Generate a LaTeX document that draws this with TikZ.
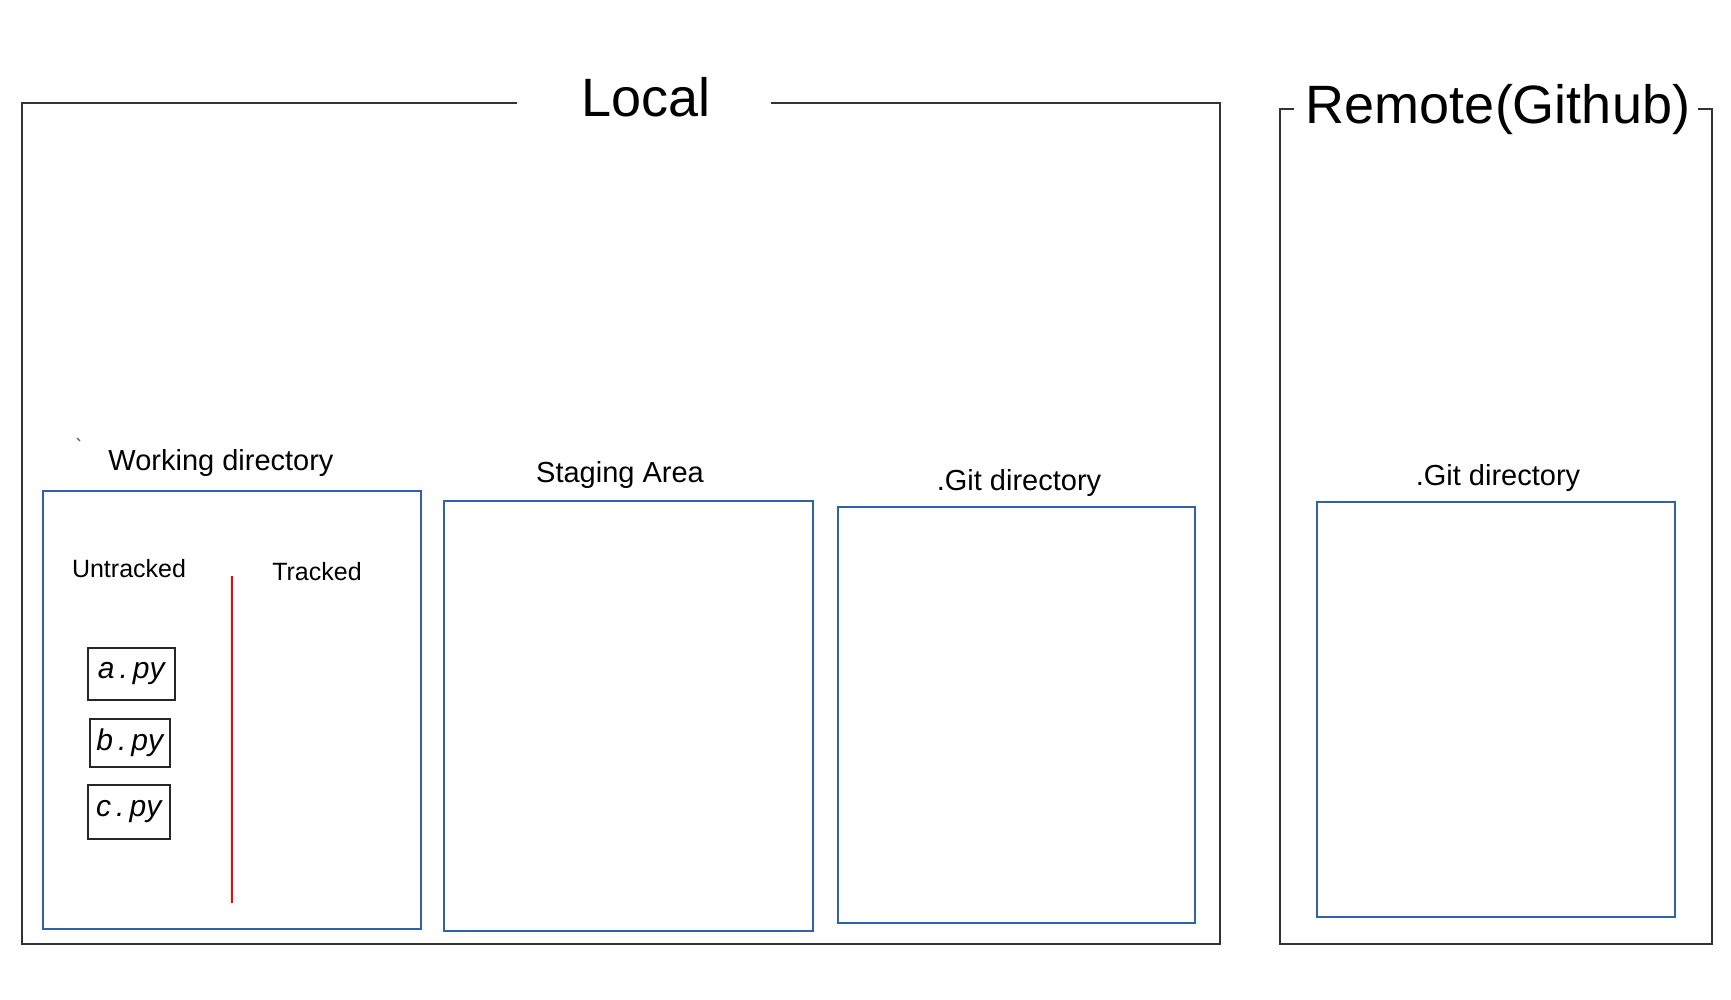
\documentclass[tikz,border=0pt]{standalone}
\usepackage{fontspec}
\setmainfont{Liberation Sans}
\begin{document}
\begin{tikzpicture}[x=1pt,y=-1pt,
  frame/.style={draw=black!80, line width=1.4pt},
  area/.style={draw=blueline, line width=1.5pt, rectangle, inner sep=0pt, anchor=north west},
  filebox/.style={draw=black!85, line width=1.5pt, rectangle, inner sep=0pt, anchor=north west, font=\fontsize{30}{36}\selectfont\itshape},
  bigtitle/.style={font=\fontsize{54}{64}\selectfont, inner sep=0pt},
  label/.style={font=\fontsize{29}{34}\selectfont, inner sep=0pt},
  small/.style={font=\fontsize{25}{30}\selectfont, inner sep=0pt}
]
\definecolor{blueline}{RGB}{48,98,170}
\useasboundingbox[fill=white] (0,0) rectangle (1731,1000);

% Local frame
\node[bigtitle] (ltitle) at (646,97) {Local};
\coordinate (lgapL) at (517,103);
\coordinate (lgapR) at (771,103);
\draw[frame] (lgapL) -- (22,103) -- (22,944) -- (1220,944) -- (1220,103) -- (lgapR);

% Remote frame
\node[bigtitle] (rtitle) at (1498,110) {Remote(Github)};
\coordinate (rgapL) at (1294,109);
\coordinate (rgapR) at (1698,109);
\draw[frame] (rgapL) -- (1280,109) -- (1280,944) -- (1712,944) -- (1712,109) -- (rgapR);

% Working directory
\node[label] (wdl) at (221,463) {Working directory};
\node[area, minimum width=378pt, minimum height=438pt] (wd) at (42,490) {};
\node[small] (untr) at (129,569) {Untracked};
\node[small] (tr) at (317,572) {Tracked};
\coordinate (redT) at (232,576);
\coordinate (redB) at (232,903);
\draw[red, line width=1.4pt] (redT) -- (redB);

\node[filebox, minimum width=87pt, minimum height=52pt] (fa) at (87,647) {a\,.\,py};
\node[filebox, minimum width=80pt, minimum height=48pt] (fb) at (89,718) {b\,.\,py};
\node[filebox, minimum width=82pt, minimum height=54pt] (fc) at (87,784) {c\,.\,py};

% stray mark
\coordinate (m1) at (77,438);
\coordinate (m2) at (80,441);
\draw[blueline, line width=1.2pt] (m1) -- (m2);

% Staging area
\node[label] (sal) at (620,475) {Staging Area};
\node[area, minimum width=369pt, minimum height=430pt] (sa) at (443,500) {};

% Local git dir
\node[label] (gdl) at (1019,483) {.Git directory};
\node[area, minimum width=357pt, minimum height=416pt] (gd) at (837,506) {};

% Remote git dir
\node[label] (rgdl) at (1498,478) {.Git directory};
\node[area, minimum width=358pt, minimum height=415pt] (rgd) at (1316,501) {};
\end{tikzpicture}
\end{document}
